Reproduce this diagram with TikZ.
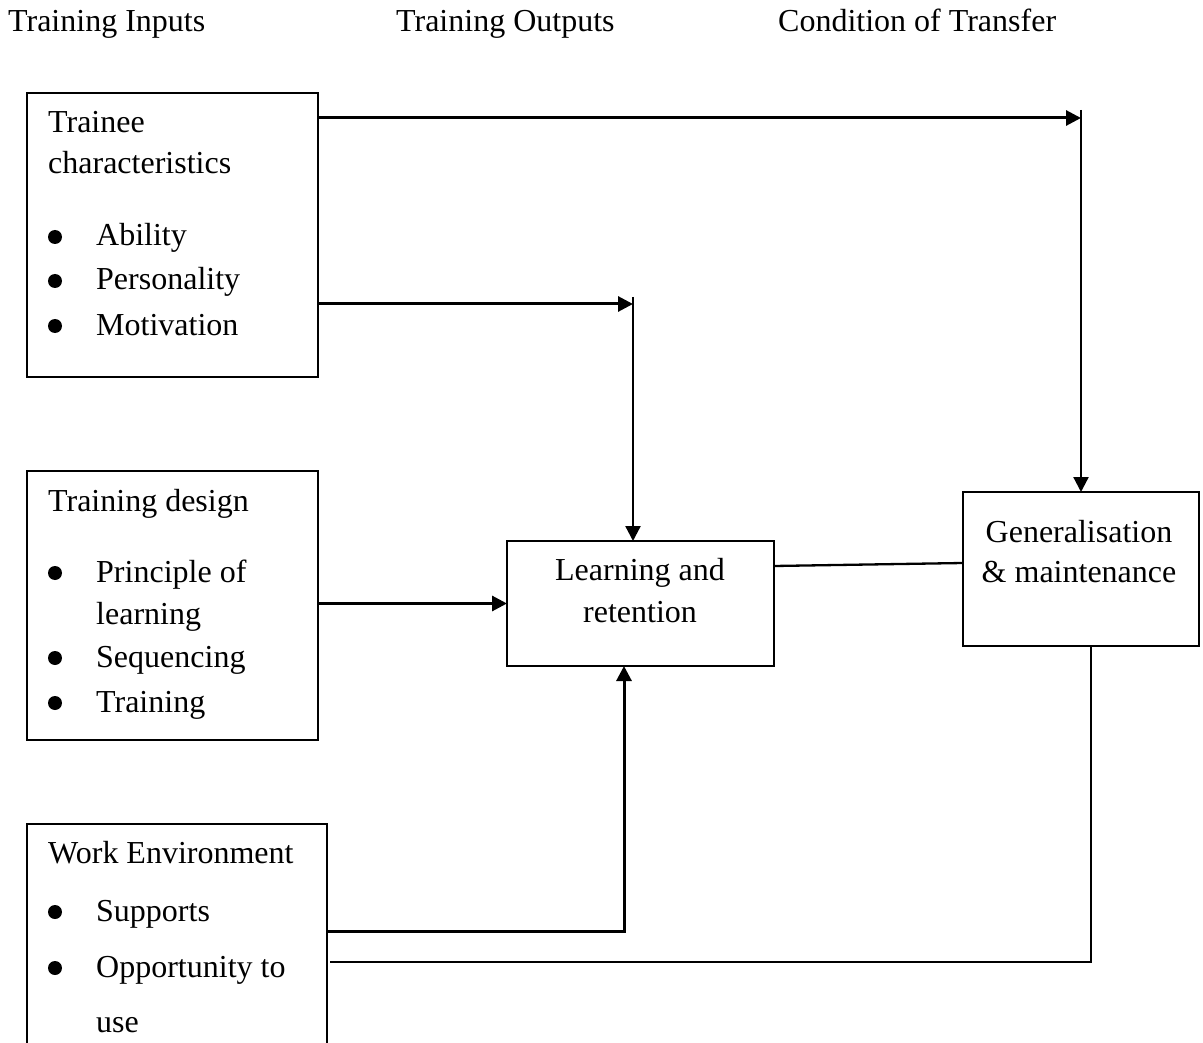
\documentclass[tikz,border=0pt]{standalone}
\usepackage{fontspec}
\setmainfont{Liberation Serif}
\usetikzlibrary{arrows.meta}
\begin{document}
\begin{tikzpicture}[x=1pt,y=-1pt,
  box/.style={draw,line width=2.2pt,inner sep=0pt,outer sep=0pt,anchor=north west},
  lbl/.style={anchor=base west,inner sep=0pt,font=\fontsize{32}{38}\selectfont},
  clbl/.style={anchor=base,inner sep=0pt,font=\fontsize{32}{38}\selectfont},
  link/.style={line width=3pt},
  thinlink/.style={line width=2.3pt},
  tip/.style={-{Triangle[length=15pt,width=15pt]}},
  arr/.style={link,tip},
  dot/.style={circle,fill,inner sep=0pt,minimum size=14pt}
]
\useasboundingbox (0,0) rectangle (1203,1043);
\fill[white] (0,0) rectangle (1203,1043);

% column headings
\node[lbl] (hin)  at (8,32)   {Training Inputs};
\node[lbl] (hout) at (396,32) {Training Outputs};
\node[lbl] (htr)  at (778,32) {Condition of Transfer};

\begin{scope}
\clip (0,0) rectangle (1203,1043);

% trainee characteristics
\node[box,minimum width=291pt,minimum height=284pt] (trainee) at (27,93) {};
\node[lbl] (t1) at (48,133) {Trainee};
\node[lbl] (t2) at (48,174) {characteristics};
\node[dot] (tb1) at (55,237) {};
\node[lbl] (t3) at (96,246) {Ability};
\node[dot] (tb2) at (55,281) {};
\node[lbl] (t4) at (96,290) {Personality};
\node[dot] (tb3) at (55,326) {};
\node[lbl] (t5) at (96,335) {Motivation};

% training design
\node[box,minimum width=291pt,minimum height=269pt] (design) at (27,471) {};
\node[lbl] (d1) at (48,511) {Training design};
\node[dot] (db1) at (55,573) {};
\node[lbl] (d2) at (96,582) {Principle of};
\node[lbl] (d3) at (96,624) {learning};
\node[dot] (db2) at (55,658) {};
\node[lbl] (d4) at (96,667) {Sequencing};
\node[dot] (db3) at (55,703) {};
\node[lbl] (d5) at (96,712) {Training};

% work environment (runs off the lower edge)
\node[box,minimum width=300pt,minimum height=260pt] (work) at (27,824) {};
\node[lbl] (w1) at (48,863) {Work Environment};
\node[dot] (wb1) at (55,912) {};
\node[lbl] (w2) at (96,921) {Supports};
\node[dot] (wb2) at (55,968) {};
\node[lbl] (w3) at (96,977) {Opportunity to};
\node[lbl] (w4) at (96,1032) {use};
\end{scope}

% outputs and transfer
\node[box,minimum width=267pt,minimum height=125pt] (learn) at (507,541) {};
\node[clbl] (l1) at (640,580) {Learning and};
\node[clbl] (l2) at (640,622) {retention};

\node[box,minimum width=236pt,minimum height=154pt] (gen) at (963,492) {};
\node[clbl] (g1) at (1079,542) {Generalisation};
\node[clbl] (g2) at (1079,582) {\& maintenance};

% routing points
\coordinate (topturn) at (1081,118);
\coordinate (topstart) at (1081,110);
\coordinate (midturn) at (633,304);
\coordinate (midstart) at (633,297);
\coordinate (envturn) at (624,931);
\coordinate (lg1) at (774,566);
\coordinate (lg2) at (963,563);
\coordinate (fb) at (1091,962);
\coordinate (fbend) at (330,962);

% connectors
\draw[arr] (trainee.east |- topturn) -- (topturn);
\draw[thinlink,tip] (topstart) -- (gen.north -| topstart);
\draw[arr] (trainee.east |- midturn) -- (midturn);
\draw[thinlink,tip] (midstart) -- (learn.north -| midstart);
\draw[arr] (design.east |- learn.west) -- (learn.west);
\draw[arr] (work.east |- envturn) -- (envturn) -- (learn.south -| envturn);
\draw[thinlink] (learn.east |- lg1) -- (gen.west |- lg2);
\draw[thinlink] (gen.south -| fb) -- (fb) -- (fbend);
\end{tikzpicture}
\end{document}
